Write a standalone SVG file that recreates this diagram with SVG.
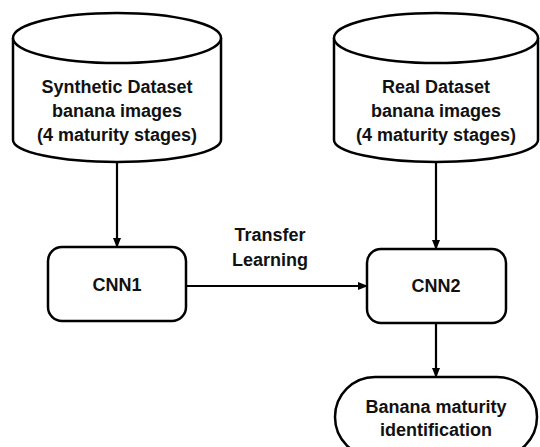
<svg xmlns="http://www.w3.org/2000/svg" width="540" height="447" viewBox="0 0 540 447">
<style>
.s{fill:#fff;stroke:#000;stroke-width:2.5}
.t{font-family:"Liberation Sans",Arial,sans-serif;font-weight:bold;font-size:18px;text-anchor:middle;fill:#111}
.c{stroke:#000;stroke-width:2.2;fill:none;marker-end:url(#ah)}
</style>
<defs>
<marker id="ah" markerWidth="10" markerHeight="10" refX="9" refY="5" orient="auto" markerUnits="userSpaceOnUse">
<path d="M0,1 L10,5 L0,9 Z" fill="#000"/>
</marker>
</defs>
<rect width="540" height="447" fill="#fff"/>
<g id="connectors">
<line class="c" x1="117" y1="163" x2="117" y2="247"/>
<line class="c" x1="436" y1="163" x2="436" y2="249"/>
<line class="c" x1="186" y1="286" x2="367" y2="286"/>
<line class="c" x1="436" y1="323" x2="436" y2="377"/>
<text class="t" x="270" y="241">Transfer</text>
<text class="t" x="270" y="266">Learning</text>
</g>
<g id="synthetic">
<path class="s" d="M13,38 L13,140 A104,22 0 0 0 221,140 L221,38"/>
<ellipse class="s" cx="117" cy="38" rx="104" ry="25"/>
<text class="t" x="117" y="93">Synthetic Dataset</text>
<text class="t" x="117" y="117">banana images</text>
<text class="t" x="117" y="141">(4 maturity stages)</text>
</g>
<g id="real">
<path class="s" d="M334,38 L334,140 A102,22 0 0 0 538,140 L538,38"/>
<ellipse class="s" cx="436" cy="38" rx="102" ry="25"/>
<text class="t" x="436" y="93">Real Dataset</text>
<text class="t" x="436" y="117">banana images</text>
<text class="t" x="436" y="141">(4 maturity stages)</text>
</g>
<g id="cnn1">
<rect class="s" x="48" y="247" width="138" height="74" rx="14"/>
<text class="t" x="117" y="291">CNN1</text>
</g>
<g id="cnn2">
<rect class="s" x="367" y="249" width="139" height="74" rx="14"/>
<text class="t" x="436" y="292">CNN2</text>
</g>
<g id="result">
<rect class="s" x="335" y="377" width="202" height="80" rx="40"/>
<text class="t" x="436" y="413">Banana maturity</text>
<text class="t" x="436" y="436">identification</text>
</g>
</svg>
